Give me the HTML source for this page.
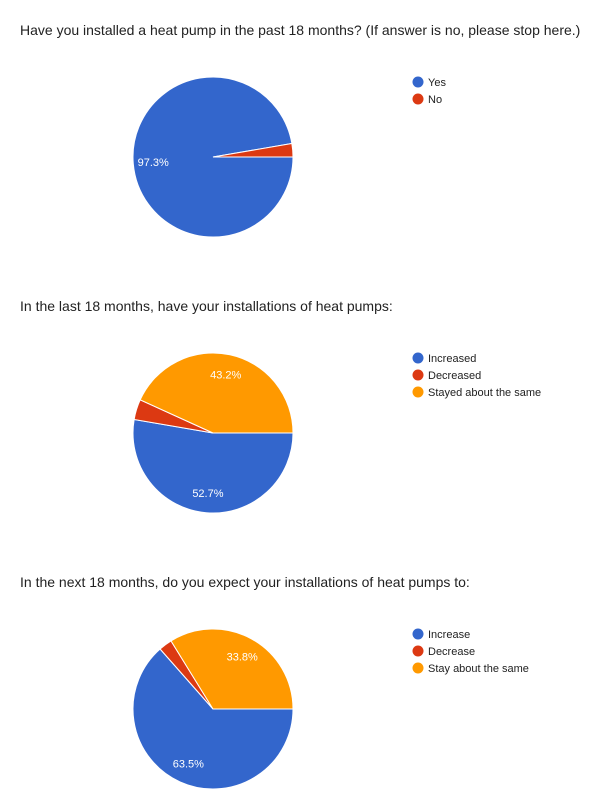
<!DOCTYPE html>
<html><head><meta charset="utf-8"><style>
body{margin:0;background:#fff;font-family:"Liberation Sans",Arial,sans-serif;}
svg{display:block}
</style></head><body>
<svg id="chart" width="600" height="808" xmlns="http://www.w3.org/2000/svg"></svg>
<script>
const titles = ["Have you installed a heat pump in the past 18 months? (If answer is no, please stop here.)","In the last 18 months, have your installations of heat pumps:","In the next 18 months, do you expect your installations of heat pumps to:"];
const cats1 = ["Yes","No"];
const vals1 = [97.3,2.7];
const cats2 = ["Increased","Decreased","Stayed about the same"];
const vals2 = [52.7,4.1,43.2];
const cats3 = ["Increase","Decrease","Stay about the same"];
const vals3 = [63.5,2.7,33.8];
const colors = ["#3366cc","#dc3912","#ff9900"];
const NS="http://www.w3.org/2000/svg";
const svg=document.getElementById('chart');
function mk(t,a,p){const e=document.createElementNS(NS,t);for(const k in a)e.setAttribute(k,a[k]);(p||svg).appendChild(e);return e;}
const charts=[[cats1,vals1],[cats2,vals2],[cats3,vals3]];
charts.forEach((c,i)=>{
  const [cats,vals]=c;
  const oy=i*276;
  const g=mk('g',{});
  
  
  const t=mk('text',{x:20,y:oy+35,'font-size':14,fill:'#222'},g);
  t.textContent=titles[i];
  
  
  const cx=213,cy=oy+157,r=80;
  const total=vals.reduce((a,b)=>a+b,0);
  let a0=0;
  vals.forEach((v,j)=>{
    const a1=a0+v/total*2*Math.PI;
    const x0=cx+r*Math.cos(a0),y0=cy+r*Math.sin(a0),x1=cx+r*Math.cos(a1),y1=cy+r*Math.sin(a1);
    const large=(a1-a0)>Math.PI?1:0;
    const p=mk('path',{d:`M${cx},${cy}L${x0},${y0}A${r},${r} 0 ${large} 1 ${x1},${y1}Z`,fill:colors[j],stroke:'#fff','stroke-width':1},g);
    
    
    if(v/total>0.1){
      const am=(a0+a1)/2;
      const lt=mk('text',{x:cx+0.75*r*Math.cos(am),y:cy+0.75*r*Math.sin(am)+4,'font-size':11,fill:'#fff','text-anchor':'middle'},g);
      lt.textContent=v.toFixed(1)+'%';
      
      
    }
    a0=a1;
  });
  cats.forEach((n,j)=>{
    const lg=mk('g',{},g);
    
    
    const ly=oy+82+j*17;
    mk('circle',{cx:418,cy:ly,r:5.5,fill:colors[j]},lg);
    const lt=mk('text',{x:428,y:ly+4,'font-size':11,fill:'#222'},lg);
    lt.textContent=n;
  });
});
</script>
</body></html>
